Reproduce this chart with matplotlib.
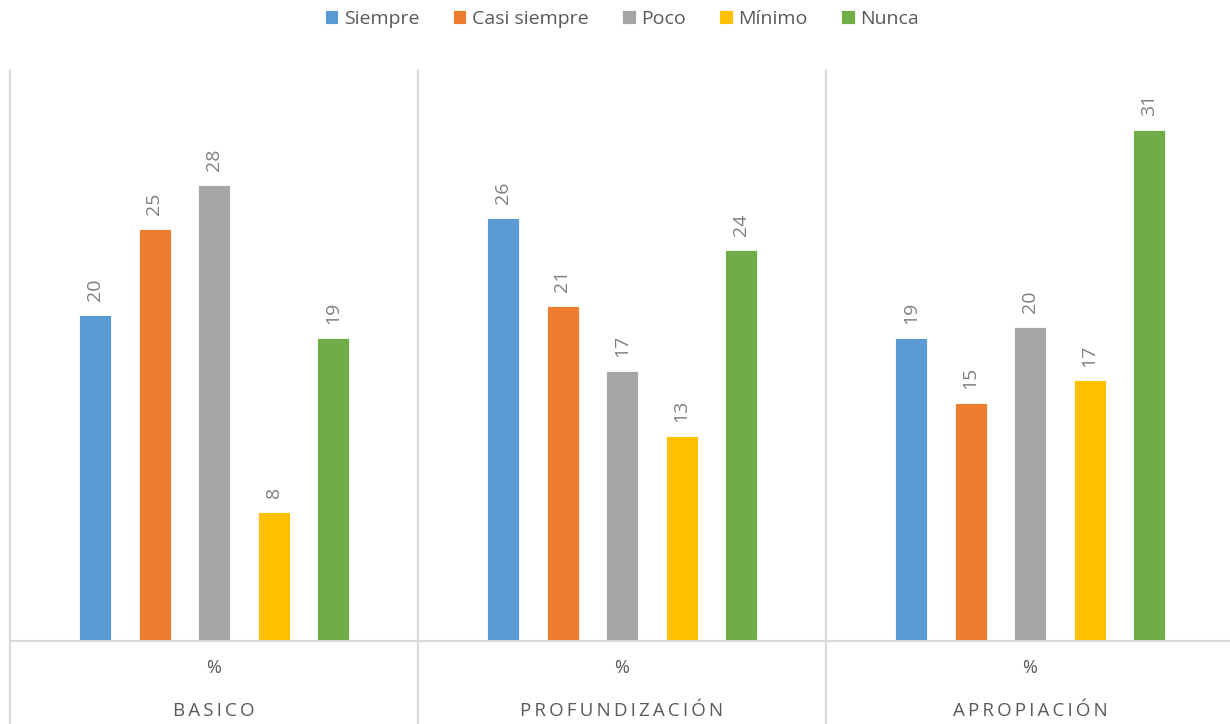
import matplotlib
matplotlib.use("Agg")
import matplotlib.pyplot as plt
import numpy as np

groups = ["BASICO", "PROFUNDIZACIÓN", "APROPIACIÓN"]
sub_label = "%"
series = ["Siempre", "Casi siempre", "Poco", "Mínimo", "Nunca"]
colors = ["#5b9bd5", "#ed7d31", "#a5a5a5", "#ffc000", "#70ad47"]
# bar heights
siempre = [20.0, 26.0, 18.6]
casi_siempre = [25.3, 20.6, 14.6]
poco = [28.0, 16.6, 19.3]
minimo = [7.9, 12.6, 16.0]
nunca = [18.6, 24.0, 31.4]
# data labels as printed on the chart
lab_siempre = ["20", "26", "19"]
lab_casi = ["25", "21", "15"]
lab_poco = ["28", "17", "20"]
lab_minimo = ["8", "13", "17"]
lab_nunca = ["19", "24", "31"]

values = [siempre, casi_siempre, poco, minimo, nunca]
labels = [lab_siempre, lab_casi, lab_poco, lab_minimo, lab_nunca]

plt.rcParams['font.family'] = ['Open Sans', 'DejaVu Sans']

W, H = 1230, 724
fig = plt.figure(figsize=(W / 100, H / 100), dpi=100)
left_px, right_px, top_px, bot_px = 10, 1234, 71, 641
ax = fig.add_axes([left_px / W, 1 - bot_px / H, (right_px - left_px) / W, (bot_px - top_px) / H])

x = np.arange(len(groups))
spacing = 59.5 / 408
width = 32 / 408
for i, (s, vals, labs, c) in enumerate(zip(series, values, labels, colors)):
    pos = x + (i - 2) * spacing
    bars = ax.bar(pos, vals, width=width, color=c, label=s, edgecolor="white", linewidth=0.6, zorder=3)
    for b, t in zip(bars, labs):
        ax.annotate(t, (b.get_x() + b.get_width() / 2, b.get_height()),
                    xytext=(0, 10), textcoords="offset points", rotation=90,
                    ha="center", va="bottom", fontsize=14, color="#7f7f7f")

ax.set_xlim(-0.5, 2.5)
ax.set_ylim(0, 35)
for sp in ax.spines.values():
    sp.set_visible(False)
ax.set_xticks([])
ax.set_yticks([])

grid_c = "#d9d9d9"
ax.axhline(0, color=grid_c, lw=1.5, zorder=4, clip_on=False)
ybot = -(H - bot_px) / (bot_px - top_px)
for xv in [-0.5, 0.5, 1.5]:
    ax.plot([xv, xv], [1, ybot], transform=ax.get_xaxis_transform(), color=grid_c, lw=1.5, clip_on=False)

for xi, g in zip(x, groups):
    ax.text(xi, -(668 - bot_px) / (bot_px - top_px), sub_label, transform=ax.get_xaxis_transform(),
            ha="center", va="center", fontsize=13, color="#595959")
    ax.text(xi, -(711 - bot_px) / (bot_px - top_px), "\u2009".join(g), transform=ax.get_xaxis_transform(),
            ha="center", va="center", fontsize=13.5, color="#595959")

leg = fig.legend(loc="center", bbox_to_anchor=(622 / W, 1 - 19 / H), ncol=5, frameon=False,
                 fontsize=14, handlelength=0.7, handleheight=0.7, handletextpad=0.3,
                 columnspacing=1.7, labelcolor="#595959")

fig.savefig("out.png", dpi=100)
